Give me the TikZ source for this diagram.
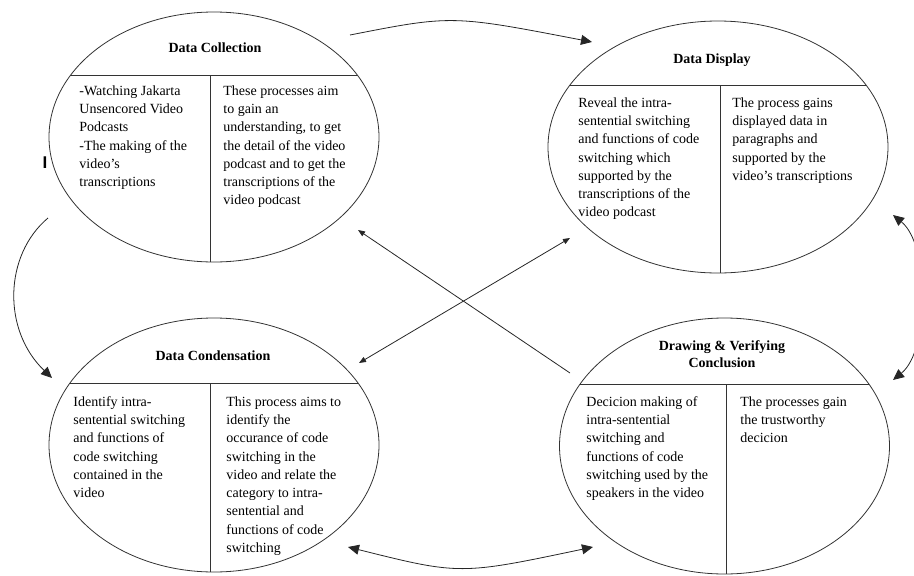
\documentclass[tikz,border=0pt]{standalone}
\usepackage{fontspec}
\setmainfont{Liberation Serif}
\newfontfamily\barfont{Liberation Sans}
\usetikzlibrary{shapes.geometric,arrows.meta}

\begin{document}
\begin{tikzpicture}[x=1pt, y=-1pt, line width=0.8pt,
  big/.tip={Triangle[length=11pt,width=10pt]},
  small/.tip={Triangle[length=7pt,width=5.5pt]},
  every node/.style={font=\fontsize{14}{18.3}\selectfont},
  stage/.style={ellipse, draw=black!80, minimum width=330pt, minimum height=250pt, inner sep=0pt},
  divider/.style={path picture={
    \draw[black!80] ([yshift=62pt]path picture bounding box.west) -- ([yshift=62pt]path picture bounding box.east);
    \draw[black!80] ([xshift=#1]path picture bounding box.south) -- ([xshift=#1,yshift=62pt]path picture bounding box.center);}},
  head/.style={anchor=north, align=center, inner sep=0pt, font=\fontsize{14}{17}\selectfont\bfseries, execute at begin node=\strut},
  cell/.style={anchor=north west, align=left, inner sep=0pt, execute at begin node=\strut},
  flow/.style={draw=black!85, -big},
  both/.style={draw=black!85, big-big}]
  \useasboundingbox (0,0) rectangle (914,576);

  \node[stage, divider=-4pt] (coll) at (214,137) {};
  \node[stage, divider=2pt, minimum width=340pt, minimum height=252pt] (disp) at (718,147) {};
  \node[stage, divider=-4pt, minimum height=254pt] (cond) at (214,445) {};
  \node[stage, divider=1.5pt, minimum height=256pt] (concl) at (724.5,446) {};

  \node[head] (collHead) at (215,40) {Data Collection};
  \node[cell] (collLeft) at (79,85) {-Watching Jakarta\\Unsencored Video\\Podcasts\\-The making of the\\video’s\\transcriptions};
  \node[cell] (collRight) at (223,85) {These processes aim\\to gain an\\understanding, to get\\the detail of the video\\podcast and to get the\\transcriptions of the\\video podcast};

  \node[head] (dispHead) at (712,51) {Data Display};
  \node[cell] (dispLeft) at (578,97) {Reveal the intra-\\sentential switching\\and functions of code\\switching which\\supported by the\\transcriptions of the\\video podcast};
  \node[cell] (dispRight) at (732,97) {The process gains\\displayed data in\\paragraphs and\\supported by the\\video’s transcriptions};

  \node[head] (condHead) at (213,348) {Data Condensation};
  \node[cell] (condLeft) at (73,396) {Identify intra-\\sentential switching\\and functions of\\code switching\\contained in the\\video};
  \node[cell] (condRight) at (226,396) {This process aims to\\identify the\\occurance of code\\switching in the\\video and relate the\\category to intra-\\sentential and\\functions of code\\switching};

  \node[head] (conclHead) at (722,340) {Drawing \& Verifying\\Conclusion};
  \node[cell] (conclLeft) at (586,396) {Decicion making of\\intra-sentential\\switching and\\functions of code\\switching used by the\\speakers in the video};
  \node[cell] (conclRight) at (740,396) {The processes gain\\the trustworthy\\decicion};

  \node[anchor=base, inner sep=0pt, font=\barfont\bfseries\fontsize{17}{17}\selectfont] (mark) at (45,168) {I};

  \coordinate (collTop) at (350,35);
  \coordinate (dispTop) at (592,42);
  \coordinate (collSide) at (48,218);
  \coordinate (condSide) at (52,378);
  \coordinate (dispSide) at (893,215);
  \coordinate (conclSide) at (893,380);
  \coordinate (condBot) at (348,547);
  \coordinate (conclBot) at (593,547);
  \coordinate (collIn) at (358,230);
  \coordinate (conclIn) at (570,373);
  \coordinate (condIn) at (359,363);
  \coordinate (dispIn) at (570,238);

  \draw[flow] (collTop) .. controls (452,15) .. (dispTop);
  \draw[flow] (collSide) .. controls (4,255) and (2,330) .. (condSide);
  \draw[both] (dispSide) .. controls (930,245) and (930,350) .. (conclSide);
  \draw[both] (condBot) .. controls (460,575) .. (conclBot);
  \draw[draw=black!85, -small] (conclIn) -- (collIn);
  \draw[draw=black!85, small-small] (condIn) -- (dispIn);
\end{tikzpicture}
\end{document}
